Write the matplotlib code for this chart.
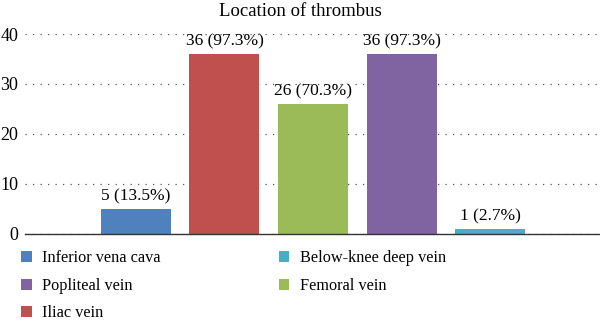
import matplotlib.pyplot as plt
from matplotlib.patches import Patch

categories = ["Inferior vena cava", "Iliac vein", "Femoral vein", "Popliteal vein", "Below-knee deep vein"]
counts = [5, 36, 26, 36, 1]
percents = ["13.5%", "97.3%", "70.3%", "97.3%", "2.7%"]
colors = ["#4F81BD", "#C0504D", "#9BBB59", "#8064A2", "#4BACC6"]
yticks = [0, 10, 20, 30, 40]

plt.rcParams['font.family'] = ['Liberation Serif', 'DejaVu Serif']

fig = plt.figure(figsize=(6, 3.24), dpi=100)
ax = fig.add_axes([0.042, 0.278, 0.958, 0.617])

x = [1, 2, 3, 4, 5]
ax.bar(x, counts, width=0.79, color=colors, zorder=3)
for xi, c, p in zip(x, counts, percents):
    ax.text(xi, c + 0.9, "%d (%s)" % (c, p), ha="center", va="bottom", fontsize=12.5, zorder=4)

ax.set_xlim(-0.25, 6.24)
ax.set_ylim(0, 40)
ax.set_yticks(yticks)
ax.set_xticks([])
ax.tick_params(axis="y", length=0, pad=5, labelsize=13)
ax.grid(axis="y", color="#555555", linestyle=(0, (1, 5)), linewidth=0.9, zorder=0)
for s in ["top", "right", "left"]:
    ax.spines[s].set_visible(False)
ax.spines["bottom"].set_color("#333333")
ax.spines["bottom"].set_linewidth(1.0)
ax.spines["bottom"].set_zorder(5)

fig.text(0.5, 0.965, "Location of thrombus", ha="center", va="center", fontsize=13.5)

order = [0, 3, 1, 4, 2]
handles = [Patch(facecolor=colors[i], label=categories[i]) for i in order]
fig.legend(handles=handles, ncol=2, loc="upper left", bbox_to_anchor=(0.022, 0.252),
           frameon=False, fontsize=11.7, handlelength=0.65, handleheight=0.65,
           handletextpad=0.65, columnspacing=7.25, labelspacing=0.7, borderpad=0)

plt.savefig("out.png", dpi=100)
plt.close()
